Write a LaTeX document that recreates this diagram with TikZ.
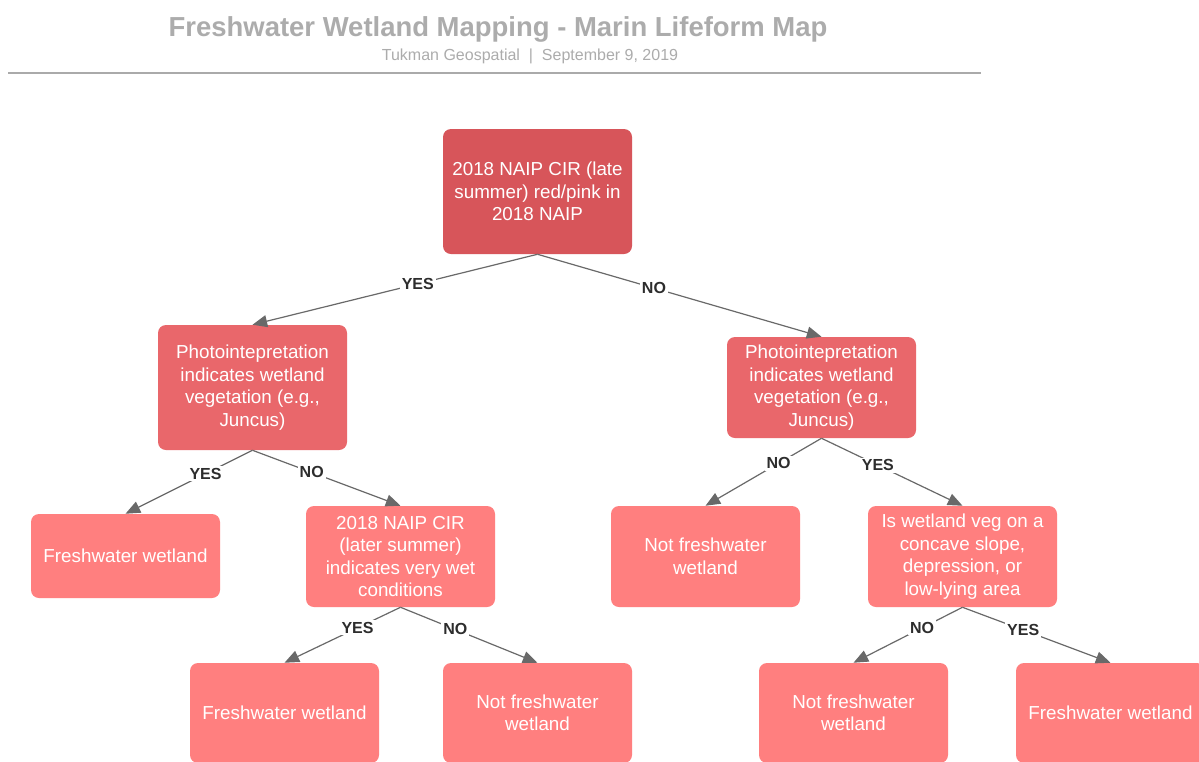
\documentclass[tikz,border=0pt]{standalone}
\usepackage{fontspec}
\setmainfont{Liberation Sans}
\usetikzlibrary{arrows.meta}
\definecolor{rootc}{RGB}{215,85,90}
\definecolor{midc}{RGB}{233,103,107}
\definecolor{leafc}{RGB}{255,127,127}
\definecolor{linec}{RGB}{105,105,105}
\definecolor{labc}{RGB}{45,45,45}
\definecolor{titlec}{RGB}{172,172,172}
\definecolor{rulec}{RGB}{170,170,170}
\tikzset{
  box/.style={rectangle, rounded corners=6pt, draw=none, text=white, align=center,
    minimum width=141.75pt, inner sep=2pt,
    font=\fontsize{14.1}{16.9}\selectfont},
  rootbox/.style={box, fill=rootc},
  midbox/.style={box, fill=midc},
  leafbox/.style={box, fill=leafc},
  conn/.style={draw=linec, line width=0.9pt, -{Triangle[length=11pt,width=9pt]}},
  lab/.style={fill=white, inner sep=1.5pt, text=labc, pos=0.4,
    font=\fontsize{12}{12}\selectfont\bfseries}
}
\begin{document}
\begin{tikzpicture}[x=0.75pt,y=-0.75pt]
\useasboundingbox (0,0) rectangle (1199,761);
\clip (0,0) rectangle (1199,761);
\fill[white] (0,0) rectangle (1199,761);
% title
\node[text=titlec, font=\fontsize{20.6}{22}\selectfont\bfseries] (title) at (498,29) {Freshwater Wetland Mapping - Marin Lifeform Map};
\node[text=titlec, font=\fontsize{12}{14}\selectfont] (sub) at (530,56) {Tukman Geospatial~~|~~September 9, 2019};
\coordinate (ruleA) at (8,73);
\coordinate (ruleB) at (981,73);
\draw[rulec, line width=1.5pt] (ruleA) -- (ruleB);
% nodes
\node[rootbox, minimum height=93.75pt] (root) at (537.5,191.5) {2018 NAIP CIR (late\\summer) red/pink in\\2018 NAIP};
\node[midbox, minimum height=93.75pt] (pl) at (252.5,387.5) {Photointepretation\\indicates wetland\\vegetation (e.g.,\\Juncus)};
\node[midbox, minimum height=75.75pt] (pr) at (821.5,387.5) {Photointepretation\\indicates wetland\\vegetation (e.g.,\\Juncus)};
\node[leafbox, minimum height=63pt] (fw1) at (125.5,556) {Freshwater wetland};
\node[leafbox, minimum height=75.75pt] (naip) at (400.5,556.5) {2018 NAIP CIR\\(later summer)\\indicates very wet\\conditions};
\node[leafbox, minimum height=75.75pt] (nf1) at (705.5,556.5) {Not freshwater\\wetland};
\node[leafbox, minimum height=75.75pt] (iw) at (962.5,556.5) {Is wetland veg on a\\concave slope,\\depression, or\\low-lying area};
\node[leafbox, minimum height=75pt] (fw2) at (284.5,713) {Freshwater wetland};
\node[leafbox, minimum height=75pt] (nf2) at (537.5,713) {Not freshwater\\wetland};
\node[leafbox, minimum height=75pt] (nf3) at (853.5,713) {Not freshwater\\wetland};
\node[leafbox, minimum height=75pt] (fw3) at (1110.5,713) {Freshwater wetland};
% connectors
\draw[conn] (root.south) -- node[lab, pos=0.42] {YES} (pl.north);
\draw[conn] (root.south) -- node[lab, pos=0.41] {NO} (pr.north);
\draw[conn] (pl.south) -- node[lab, pos=0.37] {YES} (fw1.north);
\draw[conn] (pl.south) -- node[lab] {NO} (naip.north);
\draw[conn] (pr.south) -- node[lab, pos=0.37] {NO} (nf1.north);
\draw[conn] (pr.south) -- node[lab] {YES} (iw.north);
\draw[conn] (naip.south) -- node[lab, pos=0.37] {YES} (fw2.north);
\draw[conn] (naip.south) -- node[lab] {NO} (nf2.north);
\draw[conn] (iw.south) -- node[lab, pos=0.37] {NO} (nf3.north);
\draw[conn] (iw.south) -- node[lab, pos=0.41] {YES} (fw3.north);
\end{tikzpicture}
\end{document}
